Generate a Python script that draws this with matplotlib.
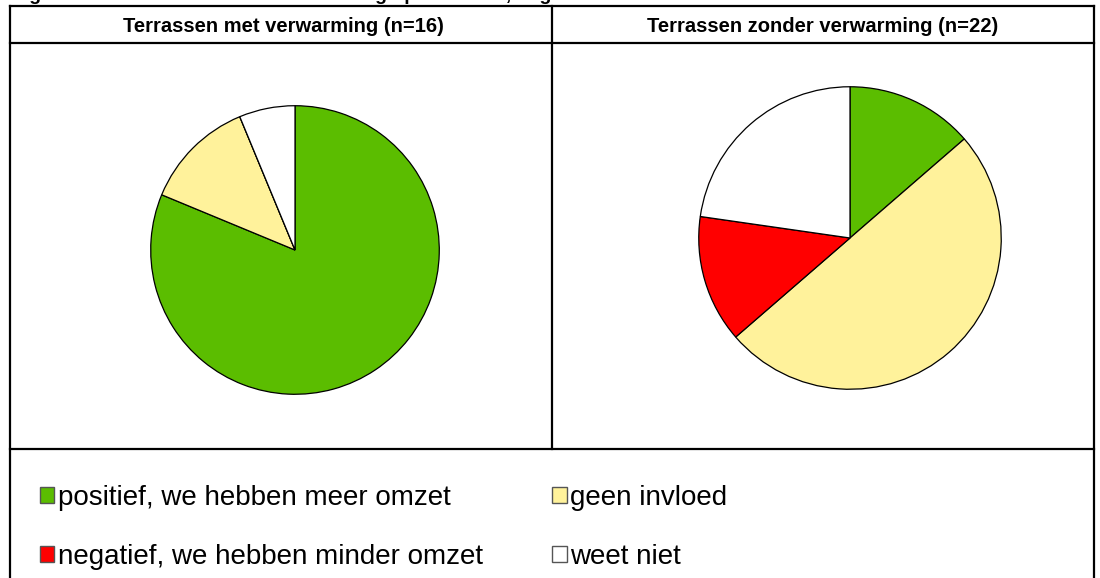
import matplotlib
matplotlib.use("Agg")
import matplotlib.pyplot as plt
from matplotlib.lines import Line2D
from matplotlib.patches import Patch

plt.rcParams['font.family'] = ['Liberation Sans', 'DejaVu Sans']

categories = ["positief, we hebben meer omzet", "geen invloed",
              "negatief, we hebben minder omzet", "weet niet"]
colors = ["#5bbd00", "#fff29b", "#ff0000", "#ffffff"]
met_verwarming = [13, 2, 0, 1]
zonder_verwarming = [3, 11, 3, 5]
titles = ["Terrassen met verwarming (n=16)", "Terrassen zonder verwarming (n=22)"]
caption = "Figuur 4.2 Invloed van terrasverwarming op de omzet, augustus 2008"

W, H = 1100, 578
fig = plt.figure(figsize=(W / 100, H / 100), dpi=100)


def fx(x):
    return x / W


def fy(y):
    return 1 - y / H


def line(x0, y0, x1, y1):
    fig.add_artist(Line2D([fx(x0), fx(x1)], [fy(y0), fy(y1)], color="black",
                          lw=1.6, transform=fig.transFigure, solid_capstyle="projecting"))


# caption, mostly cut off at the top
fig.text(fx(12), fy(0), caption, fontsize=14, fontweight="bold", va="baseline", ha="left")

# table frame
line(10, 6, 1094, 6)
line(10, 43, 1094, 43)
line(10, 449, 1094, 449)
line(10, 6, 10, 580)
line(1094, 6, 1094, 580)
line(552, 6, 552, 449)

fig.text(fx(283), fy(26), titles[0], fontsize=14.5, fontweight="bold", ha="center", va="center")
fig.text(fx(823), fy(26), titles[1], fontsize=14.5, fontweight="bold", ha="center", va="center")

pies = [(met_verwarming, 295, 250, 145), (zonder_verwarming, 850, 238, 152)]
for vals, cx, cy, r in pies:
    ax = fig.add_axes([fx(cx - r), fy(cy + r), 2 * r / W, 2 * r / H])
    ax.pie(vals, colors=colors, startangle=90, counterclock=False,
           wedgeprops=dict(edgecolor="black", linewidth=0.9))
    ax.set_xlim(-1.005, 1.005)
    ax.set_ylim(-1.005, 1.005)
    ax.axis("off")

order = [0, 2, 1, 3]
handles = [Patch(facecolor=colors[i], edgecolor="#555555", linewidth=1.0) for i in order]
labels = [categories[i] for i in order]
fig.legend(handles, labels, ncol=2, loc="upper left", bbox_to_anchor=(fx(26), fy(471)),
           frameon=False, fontsize=20, handlelength=0.52, handleheight=0.52,
           handletextpad=0.12, labelspacing=1.18, columnspacing=2.5, borderpad=0)

fig.savefig("out.png", dpi=100)
